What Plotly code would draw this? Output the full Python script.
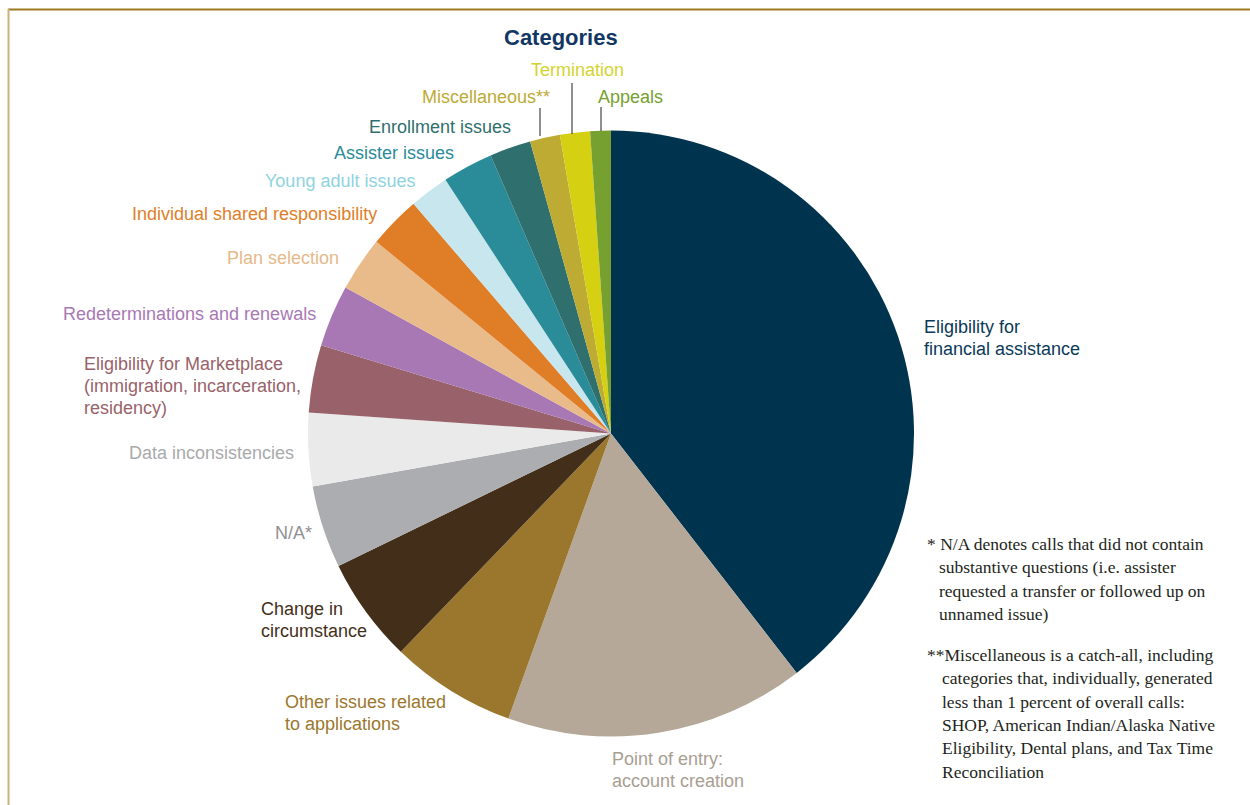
import plotly.graph_objects as go

W, H = 1250, 805

categories = [
    "Eligibility for financial assistance",
    "Point of entry: account creation",
    "Other issues related to applications",
    "Change in circumstance",
    "N/A*",
    "Data inconsistencies",
    "Eligibility for Marketplace (immigration, incarceration, residency)",
    "Redeterminations and renewals",
    "Plan selection",
    "Individual shared responsibility",
    "Young adult issues",
    "Assister issues",
    "Enrollment issues",
    "Miscellaneous**",
    "Termination",
    "Appeals",
]
shares = [39.5, 16.0, 6.7, 5.6, 4.4, 3.9, 3.6, 3.3, 2.9, 2.8, 2.1, 2.7, 2.2, 1.6, 1.6, 1.1]
slice_colors = ["#00334e", "#b5a898", "#9b772d", "#432f19", "#acadb0", "#e9eae9",
                "#99626a", "#a878b4", "#e9bb8a", "#e07e28", "#c7e6ee", "#2a8b99",
                "#2f6f6d", "#bdab33", "#d5d011", "#76a030"]
label_texts = [
    "Eligibility for<br>financial assistance",
    "Point of entry:<br>account creation",
    "Other issues related<br>to applications",
    "Change in<br>circumstance",
    "N/A*",
    "Data inconsistencies",
    "Eligibility for Marketplace<br>(immigration, incarceration,<br>residency)",
    "Redeterminations and renewals",
    "Plan selection",
    "Individual shared responsibility",
    "Young adult issues",
    "Assister issues",
    "Enrollment issues",
    "Miscellaneous**",
    "Termination",
    "Appeals",
]
label_colors = ["#0b3a58", "#a89e92", "#9b772d", "#432f19", "#8f9093", "#a9aaac",
                "#99626a", "#a878b4", "#e6b98a", "#e07e28", "#8fd3e0", "#2a8b99",
                "#2f6f6d", "#bdab33", "#d4d32e", "#76a030"]

footnote1 = ["* N/A denotes calls that did not contain",
             "substantive questions (i.e. assister",
             "requested a transfer or followed up on",
             "unnamed issue)"]
footnote2 = ["**Miscellaneous is a catch-all, including",
             "categories that, individually, generated",
             "less than 1 percent of overall calls:",
             "SHOP, American Indian/Alaska Native",
             "Eligibility, Dental plans, and Tax Time",
             "Reconciliation"]


def px(x):
    return x / W


def py(y):
    return 1 - y / H


fig = go.Figure()
fig.add_trace(go.Pie(
    labels=categories,
    values=shares,
    sort=False,
    direction="clockwise",
    rotation=0,
    marker=dict(colors=slice_colors, line=dict(width=0)),
    textinfo="none",
    hoverinfo="label+percent",
    domain=dict(x=[px(308), px(914)], y=[py(737), py(130)]),
    showlegend=False,
))

# label placement: (x, y of first line center, xanchor)
label_pos = [
    (923, 327, "left"),
    (611, 759, "left"),
    (284, 702, "left"),
    (260, 609, "left"),
    (313, 533, "right"),
    (295, 453, "right"),
    (83, 364, "left"),
    (317, 314, "right"),
    (340, 258, "right"),
    (378, 214, "right"),
    (416, 181, "right"),
    (455, 153, "right"),
    (512, 127, "right"),
    (551, 97, "right"),
    (530, 70, "left"),
    (597, 97, "left"),
]
LS = 22
FS = 18
sans = "Liberation Sans, Arial, sans-serif"
annotations = []
for txt, col, (x, y, xa) in zip(label_texts, label_colors, label_pos):
    for i, line in enumerate(txt.split("<br>")):
        annotations.append(dict(
            x=px(x), y=py(y + i * LS), xref="paper", yref="paper",
            text=line, showarrow=False, xanchor=xa, yanchor="middle", align=xa,
            font=dict(family=sans, size=FS, color=col),
            borderpad=0,
        ))

annotations.append(dict(
    x=px(561), y=py(37), xref="paper", yref="paper", text="<b>Categories</b>",
    showarrow=False, xanchor="center", yanchor="middle",
    font=dict(family=sans, size=22, color="#123763"),
))

serif = "Liberation Serif, Times New Roman, serif"
for i, line in enumerate(footnote1):
    annotations.append(dict(
        x=px(925 if i == 0 else 937), y=py(544 + i * 23.3), xref="paper", yref="paper",
        text=line, showarrow=False, xanchor="left", yanchor="middle",
        font=dict(family=serif, size=17.5, color="#231f20"),
    ))
for i, line in enumerate(footnote2):
    annotations.append(dict(
        x=px(925 if i == 0 else 940), y=py(655 + i * 23.3), xref="paper", yref="paper",
        text=line, showarrow=False, xanchor="left", yanchor="middle",
        font=dict(family=serif, size=17.5, color="#231f20"),
    ))

shapes = [
    dict(type="line", xref="paper", yref="paper", x0=px(8), x1=1, y0=py(9.5), y1=py(9.5),
         line=dict(color="#9c7a1e", width=2)),
    dict(type="line", xref="paper", yref="paper", x0=px(8.5), x1=px(8.5), y0=py(9), y1=0,
         line=dict(color="#c9b27c", width=2)),
    # leader lines
    dict(type="line", xref="paper", yref="paper", x0=px(540), x1=px(540), y0=py(108), y1=py(136),
         line=dict(color="#231f20", width=1)),
    dict(type="line", xref="paper", yref="paper", x0=px(572), x1=px(572), y0=py(83), y1=py(134),
         line=dict(color="#231f20", width=1)),
    dict(type="line", xref="paper", yref="paper", x0=px(601), x1=px(601), y0=py(107), y1=py(131),
         line=dict(color="#231f20", width=1)),
]

fig.update_layout(
    width=W, height=H,
    margin=dict(l=0, r=0, t=0, b=0),
    paper_bgcolor="white", plot_bgcolor="white",
    annotations=annotations, shapes=shapes,
    showlegend=False,
)

fig.write_html("out.html")
